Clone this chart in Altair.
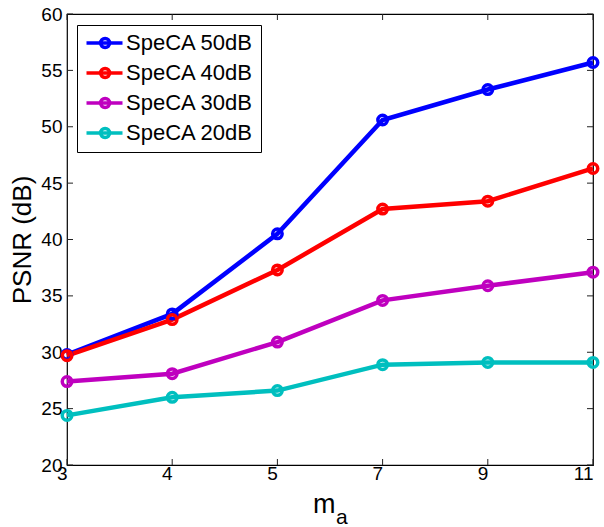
import altair as alt
import pandas as pd

x_labels = ["3", "4", "5", "7", "9", "11"]
series = ["SpeCA 50dB", "SpeCA 40dB", "SpeCA 30dB", "SpeCA 20dB"]
psnr_50 = [29.8, 33.4, 40.5, 50.6, 53.3, 55.7]
psnr_40 = [29.7, 32.9, 37.3, 42.7, 43.4, 46.3]
psnr_30 = [27.4, 28.1, 30.9, 34.6, 35.9, 37.1]
psnr_20 = [24.4, 26.0, 26.6, 28.9, 29.1, 29.1]
y_ticks = [20, 25, 30, 35, 40, 45, 50, 55, 60]
colors = ["#0000FF", "#FF0000", "#BF00BF", "#00BFBF"]

FONT = "Liberation Sans"
W, H = 526, 451

rows = []
for name, vals in zip(series, [psnr_50, psnr_40, psnr_30, psnr_20]):
    for xl, v in zip(x_labels, vals):
        rows.append({"m": xl, "psnr": v, "series": name})
df = pd.DataFrame(rows)
xt = pd.DataFrame({"m": x_labels})
yt = pd.DataFrame({"v": y_ticks})

xscale = alt.Scale(type="point", domain=x_labels, padding=0)
yscale = alt.Scale(domain=[20, 60])

x_enc = alt.X("m:O", scale=xscale, sort=x_labels,
              axis=alt.Axis(title=None, labelAngle=0, labelFontSize=19, labelFont=FONT,
                            labelColor="black", labelPadding=8, ticks=False, domain=False,
                            grid=False))
y_enc = alt.Y("psnr:Q", scale=yscale,
              axis=alt.Axis(title="PSNR (dB)", values=y_ticks, labelFontSize=19, labelFont=FONT,
                            labelColor="black", labelPadding=5, ticks=False, domain=False,
                            grid=False, titleFont=FONT, titleFontSize=26,
                            titleFontWeight="normal", titleColor="black", titlePadding=5))

sym_path = ("M-1.25,0L4.75,0M2.6,0A0.75,0.75,0,1,1,1.1,0A0.75,0.75,0,1,1,2.6,0")
legend = alt.Legend(title=None, orient="none", legendX=10, legendY=11,
                    symbolType=sym_path, symbolSize=144, symbolStrokeWidth=3.5,
                    symbolFillColor="transparent",
                    labelFont=FONT, labelFontSize=22, labelColor="black", labelOffset=21,
                    rowPadding=6, padding=7, strokeColor="black", fillColor="white",
                    symbolOffset=-1)
color_enc = alt.Color("series:N", scale=alt.Scale(domain=series, range=colors),
                      sort=series, legend=legend)

lines = alt.Chart(df).mark_line(strokeWidth=4.5).encode(x=x_enc, y=y_enc, color=color_enc)
points = alt.Chart(df).mark_point(size=90, strokeWidth=3.5, filled=False, opacity=1).encode(
    x=x_enc, y=y_enc, color=color_enc)

tick_style = dict(color="#222222", strokeWidth=1)
yl = alt.Chart(yt).mark_rule(**tick_style).encode(
    y=alt.Y("v:Q", scale=yscale), x=alt.value(0), x2=alt.value(6))
yr = alt.Chart(yt).mark_rule(**tick_style).encode(
    y=alt.Y("v:Q", scale=yscale), x=alt.value(W - 6), x2=alt.value(W))
xb = alt.Chart(xt).mark_rule(**tick_style).encode(
    x=alt.X("m:O", scale=xscale, sort=x_labels), y=alt.value(H - 6), y2=alt.value(H))
xtop = alt.Chart(xt).mark_rule(**tick_style).encode(
    x=alt.X("m:O", scale=xscale, sort=x_labels), y=alt.value(0), y2=alt.value(6))

m_text = alt.Chart(pd.DataFrame({"t": ["m"]})).mark_text(
    font=FONT, fontSize=27, align="left", baseline="alphabetic", color="black").encode(
    text="t:N", x=alt.value(246), y=alt.value(499))
a_text = alt.Chart(pd.DataFrame({"t": ["a"]})).mark_text(
    font=FONT, fontSize=21, align="left", baseline="alphabetic", color="black").encode(
    text="t:N", x=alt.value(269), y=alt.value(510))

chart = alt.layer(yl, yr, xb, xtop, lines, points, m_text, a_text).properties(
    width=W, height=H,
    autosize=alt.AutoSizeParams(type="none"),
    padding={"left": 67, "top": 14, "right": 11, "bottom": 62},
    background="white",
).configure_view(stroke="black", strokeWidth=1.2)

chart.save("out.html", embed_options={"renderer": "svg", "actions": False})
